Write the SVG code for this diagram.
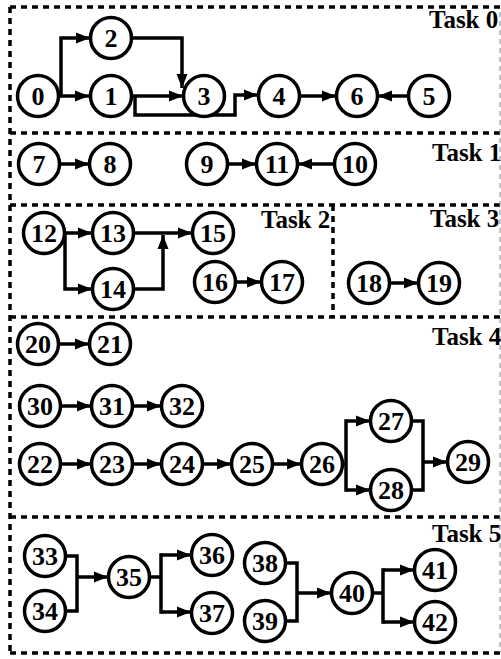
<svg xmlns="http://www.w3.org/2000/svg" width="501" height="659" viewBox="0 0 501 659">
  <style>
    .box { fill: none; stroke: #000; stroke-width: 3.5; stroke-dasharray: 6 5; }
    .edge-r { fill: none; stroke: #888; stroke-width: 1; stroke-dasharray: 5 4; }
    .node circle { fill: #fff; stroke: #000; stroke-width: 3.5; }
    .node text { font-family: "Liberation Serif", "Times New Roman", serif; font-weight: bold; font-size: 26px; text-anchor: middle; dominant-baseline: central; }
    .label { font-family: "Liberation Serif", "Times New Roman", serif; font-weight: bold; font-size: 25px; }
    .conn path { fill: none; stroke: #000; stroke-width: 3.5; }
    .conn path.a { marker-end: url(#arrow); }
  </style>
  <defs>
    <marker id="arrow" markerUnits="userSpaceOnUse" markerWidth="15" markerHeight="12" refX="14" refY="6" orient="auto">
      <path d="M0,0.5 L14,6 L0,11.5 z" fill="#000"/>
    </marker>
  </defs>

  <!-- task group borders -->
  <g id="groups">
    <path class="box" d="M10,7 H501"/>
    <path class="box" d="M10,133 H501"/>
    <path class="box" d="M10,205 H501"/>
    <path class="box" d="M10,317 H501"/>
    <path class="box" d="M10,517 H501"/>
    <path class="box" d="M10,653 H501"/>
    <path class="box" d="M10,7 V653"/>
    <path class="box" d="M333,205 V317"/>
    <path class="edge-r" d="M500,12 V653"/>
    <text class="label" x="429" y="28">Task 0</text>
    <text class="label" x="432" y="161">Task 1</text>
    <text class="label" x="261" y="228">Task 2</text>
    <text class="label" x="430" y="227">Task 3</text>
    <text class="label" x="432" y="345">Task 4</text>
    <text class="label" x="432" y="542">Task 5</text>
  </g>

  <!-- connectors -->
  <g id="connectors" class="conn">
    <!-- task 0 -->
    <path class="a" d="M58,96 H89"/>
    <path class="a" d="M61,97.5 V38 H90"/>
    <path class="a" d="M131,38 H182 V88"/>
    <path class="a" d="M131,96 H183"/>
    <path class="a" d="M135,96 V115 H235 V95 H258"/>
    <path class="a" d="M300,96 H336"/>
    <path class="a" d="M408,96 H378"/>
    <!-- task 1 -->
    <path class="a" d="M59,164 H89"/>
    <path class="a" d="M228,164 H256"/>
    <path class="a" d="M334,164 H298"/>
    <!-- task 2 -->
    <path class="a" d="M64,233 H92"/>
    <path class="a" d="M65,233 V289 H92"/>
    <path class="a" d="M133,233 H192"/>
    <path class="a" d="M133,289 H163 V235"/>
    <path class="a" d="M235,282 H261"/>
    <!-- task 3 -->
    <path class="a" d="M389,283 H418"/>
    <!-- task 4 -->
    <path class="a" d="M58,344 H89"/>
    <path class="a" d="M60,406 H91"/>
    <path class="a" d="M132,406 H161"/>
    <path class="a" d="M60,464 H91"/>
    <path class="a" d="M132,464 H161"/>
    <path class="a" d="M202,464 H231"/>
    <path class="a" d="M272,464 H301"/>
    <path d="M342,464 H346"/>
    <path class="a" d="M346,421 H370"/>
    <path class="a" d="M346,490 H370"/>
    <path d="M346,419.25 V491.75"/>
    <path d="M411,421 H423 V490 H411"/>
    <path class="a" d="M423,462 H447"/>
    <!-- task 5 -->
    <path d="M65,556 H77 V611 H65"/>
    <path class="a" d="M77,577 H108"/>
    <path d="M149,577 H161"/>
    <path d="M161,553.25 V613.75"/>
    <path class="a" d="M161,555 H191"/>
    <path class="a" d="M161,612 H191"/>
    <path d="M285,563 H297 V621 H285"/>
    <path class="a" d="M297,593 H331"/>
    <path d="M372,593 H383"/>
    <path d="M383,568.25 V623.75"/>
    <path class="a" d="M383,570 H414"/>
    <path class="a" d="M383,622 H414"/>
  </g>

  <!-- nodes -->
  <g id="n0" class="node"><circle cx="38" cy="96" r="20.5"/><text x="38" y="96">0</text></g>
  <g id="n1" class="node"><circle cx="111" cy="96" r="20.5"/><text x="111" y="96">1</text></g>
  <g id="n2" class="node"><circle cx="111" cy="38" r="20.5"/><text x="111" y="38">2</text></g>
  <g id="n3" class="node"><circle cx="204" cy="96" r="20.5"/><text x="204" y="96">3</text></g>
  <g id="n4" class="node"><circle cx="279" cy="96" r="20.5"/><text x="279" y="96">4</text></g>
  <g id="n5" class="node"><circle cx="429" cy="96" r="20.5"/><text x="429" y="96">5</text></g>
  <g id="n6" class="node"><circle cx="357" cy="96" r="20.5"/><text x="357" y="96">6</text></g>

  <g id="n7" class="node"><circle cx="39" cy="164" r="20.5"/><text x="39" y="164">7</text></g>
  <g id="n8" class="node"><circle cx="110" cy="164" r="20.5"/><text x="110" y="164">8</text></g>
  <g id="n9" class="node"><circle cx="207" cy="164" r="20.5"/><text x="207" y="164">9</text></g>
  <g id="n10" class="node"><circle cx="355" cy="164" r="20.5"/><text x="355" y="164">10</text></g>
  <g id="n11" class="node"><circle cx="277" cy="164" r="20.5"/><text x="277" y="164">11</text></g>

  <g id="n12" class="node"><circle cx="44" cy="233" r="20.5"/><text x="44" y="233">12</text></g>
  <g id="n13" class="node"><circle cx="113" cy="233" r="20.5"/><text x="113" y="233">13</text></g>
  <g id="n14" class="node"><circle cx="113" cy="289" r="20.5"/><text x="113" y="289">14</text></g>
  <g id="n15" class="node"><circle cx="213" cy="233" r="20.5"/><text x="213" y="233">15</text></g>
  <g id="n16" class="node"><circle cx="215" cy="282" r="20.5"/><text x="215" y="282">16</text></g>
  <g id="n17" class="node"><circle cx="282" cy="282" r="20.5"/><text x="282" y="282">17</text></g>

  <g id="n18" class="node"><circle cx="369" cy="283" r="20.5"/><text x="369" y="283">18</text></g>
  <g id="n19" class="node"><circle cx="439" cy="283" r="20.5"/><text x="439" y="283">19</text></g>

  <g id="n20" class="node"><circle cx="38" cy="344" r="20.5"/><text x="38" y="344">20</text></g>
  <g id="n21" class="node"><circle cx="110" cy="344" r="20.5"/><text x="110" y="344">21</text></g>
  <g id="n30" class="node"><circle cx="40" cy="406" r="20.5"/><text x="40" y="406">30</text></g>
  <g id="n31" class="node"><circle cx="112" cy="406" r="20.5"/><text x="112" y="406">31</text></g>
  <g id="n32" class="node"><circle cx="182" cy="406" r="20.5"/><text x="182" y="406">32</text></g>
  <g id="n22" class="node"><circle cx="40" cy="464" r="20.5"/><text x="40" y="464">22</text></g>
  <g id="n23" class="node"><circle cx="112" cy="464" r="20.5"/><text x="112" y="464">23</text></g>
  <g id="n24" class="node"><circle cx="182" cy="464" r="20.5"/><text x="182" y="464">24</text></g>
  <g id="n25" class="node"><circle cx="252" cy="464" r="20.5"/><text x="252" y="464">25</text></g>
  <g id="n26" class="node"><circle cx="322" cy="464" r="20.5"/><text x="322" y="464">26</text></g>
  <g id="n27" class="node"><circle cx="391" cy="421" r="20.5"/><text x="391" y="421">27</text></g>
  <g id="n28" class="node"><circle cx="391" cy="490" r="20.5"/><text x="391" y="490">28</text></g>
  <g id="n29" class="node"><circle cx="468" cy="462" r="20.5"/><text x="468" y="462">29</text></g>

  <g id="n33" class="node"><circle cx="45" cy="556" r="20.5"/><text x="45" y="556">33</text></g>
  <g id="n34" class="node"><circle cx="45" cy="611" r="20.5"/><text x="45" y="611">34</text></g>
  <g id="n35" class="node"><circle cx="129" cy="577" r="20.5"/><text x="129" y="577">35</text></g>
  <g id="n36" class="node"><circle cx="212" cy="555" r="20.5"/><text x="212" y="555">36</text></g>
  <g id="n37" class="node"><circle cx="212" cy="613" r="20.5"/><text x="212" y="613">37</text></g>
  <g id="n38" class="node"><circle cx="265" cy="563" r="20.5"/><text x="265" y="563">38</text></g>
  <g id="n39" class="node"><circle cx="265" cy="621" r="20.5"/><text x="265" y="621">39</text></g>
  <g id="n40" class="node"><circle cx="352" cy="593" r="20.5"/><text x="352" y="593">40</text></g>
  <g id="n41" class="node"><circle cx="435" cy="570" r="20.5"/><text x="435" y="570">41</text></g>
  <g id="n42" class="node"><circle cx="435" cy="622" r="20.5"/><text x="435" y="622">42</text></g>
</svg>
